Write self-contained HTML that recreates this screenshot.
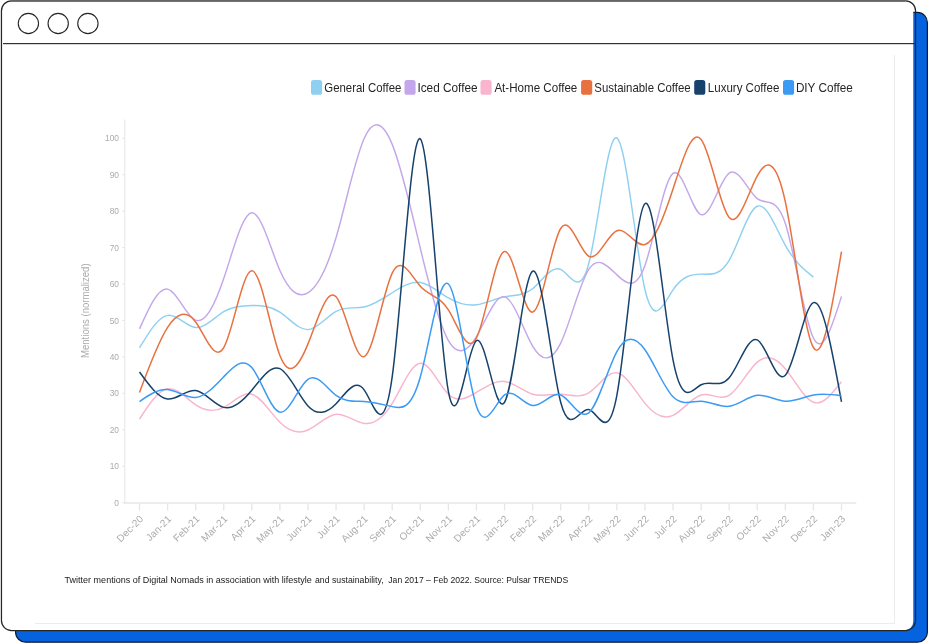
<!DOCTYPE html>
<html lang="en">
<head>
<meta charset="utf-8">
<title>Coffee mentions chart</title>
<style>
html,body{margin:0;padding:0;background:#ffffff;}
body{width:929px;height:644px;position:relative;overflow:hidden;font-family:"Liberation Sans",sans-serif;}
</style>
</head>
<body>
<svg width="929" height="644" viewBox="0 0 929 644" style="position:absolute;left:0;top:0;display:block" font-family="'Liberation Sans', sans-serif">
<rect x="0" y="0" width="929" height="644" fill="#ffffff"/>
<rect x="15.6" y="12.4" width="911.8" height="629.8" rx="10" ry="10" fill="#0663df" stroke="#0c1a30" stroke-width="1.2"/>
<rect x="1.45" y="0.8" width="911.8" height="629.7" rx="9" ry="9" fill="#ffffff"/>
<rect x="1.45" y="0.8" width="914.1" height="629.7" rx="10" ry="10" fill="none" stroke="#262626" stroke-width="1.25"/>
<rect x="11" y="0" width="894" height="1.7" fill="#666666"/>
<rect x="3" y="43" width="912" height="1.2" fill="#333333"/>
<circle cx="28.4" cy="23.5" r="10.15" fill="none" stroke="#262626" stroke-width="1.1"/>
<circle cx="58.2" cy="23.5" r="10.15" fill="none" stroke="#262626" stroke-width="1.1"/>
<circle cx="87.9" cy="23.5" r="10.15" fill="none" stroke="#262626" stroke-width="1.1"/>
<rect x="894" y="55" width="1" height="569" fill="#ececec"/>
<rect x="35" y="623" width="860" height="1" fill="#ececec"/>
<rect x="311.0" y="80.1" width="11.1" height="14.7" rx="2.6" ry="2.6" fill="#8fd0f1"/>
<text x="324.3" y="92.4" font-size="12.4" fill="#262626" textLength="77.0" lengthAdjust="spacingAndGlyphs">General Coffee</text>
<rect x="404.5" y="80.1" width="11.1" height="14.7" rx="2.6" ry="2.6" fill="#c3a7ea"/>
<text x="417.4" y="92.4" font-size="12.4" fill="#262626" textLength="60.2" lengthAdjust="spacingAndGlyphs">Iced Coffee</text>
<rect x="480.5" y="80.1" width="11.1" height="14.7" rx="2.6" ry="2.6" fill="#f8b5cd"/>
<text x="494.4" y="92.4" font-size="12.4" fill="#262626" textLength="82.9" lengthAdjust="spacingAndGlyphs">At-Home Coffee</text>
<rect x="581.1" y="80.1" width="11.1" height="14.7" rx="2.6" ry="2.6" fill="#e8713f"/>
<text x="594.3" y="92.4" font-size="12.4" fill="#262626" textLength="96.3" lengthAdjust="spacingAndGlyphs">Sustainable Coffee</text>
<rect x="694.2" y="80.1" width="11.1" height="14.7" rx="2.6" ry="2.6" fill="#17426b"/>
<text x="707.8" y="92.4" font-size="12.4" fill="#262626" textLength="71.6" lengthAdjust="spacingAndGlyphs">Luxury Coffee</text>
<rect x="783.0" y="80.1" width="11.1" height="14.7" rx="2.6" ry="2.6" fill="#3b9bf4"/>
<text x="795.9" y="92.4" font-size="12.4" fill="#262626" textLength="56.9" lengthAdjust="spacingAndGlyphs">DIY Coffee</text>
<rect x="124.3" y="119.5" width="1" height="384" fill="#e6e6e6"/>
<rect x="124.3" y="502.3" width="732" height="1.4" fill="#e6e6e6"/>
<rect x="122.5" y="502.2" width="2" height="1" fill="#e0e0e0"/>
<text x="119" y="505.7" font-size="8.4" fill="#ababab" text-anchor="end">0</text>
<rect x="122.5" y="465.8" width="2" height="1" fill="#e0e0e0"/>
<text x="119" y="469.3" font-size="8.4" fill="#ababab" text-anchor="end">10</text>
<rect x="122.5" y="429.3" width="2" height="1" fill="#e0e0e0"/>
<text x="119" y="432.8" font-size="8.4" fill="#ababab" text-anchor="end">20</text>
<rect x="122.5" y="392.9" width="2" height="1" fill="#e0e0e0"/>
<text x="119" y="396.4" font-size="8.4" fill="#ababab" text-anchor="end">30</text>
<rect x="122.5" y="356.4" width="2" height="1" fill="#e0e0e0"/>
<text x="119" y="359.9" font-size="8.4" fill="#ababab" text-anchor="end">40</text>
<rect x="122.5" y="320.0" width="2" height="1" fill="#e0e0e0"/>
<text x="119" y="323.5" font-size="8.4" fill="#ababab" text-anchor="end">50</text>
<rect x="122.5" y="283.6" width="2" height="1" fill="#e0e0e0"/>
<text x="119" y="287.1" font-size="8.4" fill="#ababab" text-anchor="end">60</text>
<rect x="122.5" y="247.1" width="2" height="1" fill="#e0e0e0"/>
<text x="119" y="250.6" font-size="8.4" fill="#ababab" text-anchor="end">70</text>
<rect x="122.5" y="210.7" width="2" height="1" fill="#e0e0e0"/>
<text x="119" y="214.2" font-size="8.4" fill="#ababab" text-anchor="end">80</text>
<rect x="122.5" y="174.2" width="2" height="1" fill="#e0e0e0"/>
<text x="119" y="177.7" font-size="8.4" fill="#ababab" text-anchor="end">90</text>
<rect x="122.5" y="137.8" width="2" height="1" fill="#e0e0e0"/>
<text x="119" y="141.3" font-size="8.4" fill="#ababab" text-anchor="end">100</text>
<rect x="138.85" y="503.5" width="1.3" height="7" fill="#e6e6e6"/>
<text transform="translate(144.0,519.5) rotate(-45)" font-size="10" letter-spacing="0.1" fill="#ababab" text-anchor="end">Dec-20</text>
<rect x="166.93" y="503.5" width="1.3" height="7" fill="#e6e6e6"/>
<text transform="translate(172.1,519.5) rotate(-45)" font-size="10" letter-spacing="0.1" fill="#ababab" text-anchor="end">Jan-21</text>
<rect x="195.01" y="503.5" width="1.3" height="7" fill="#e6e6e6"/>
<text transform="translate(200.2,519.5) rotate(-45)" font-size="10" letter-spacing="0.1" fill="#ababab" text-anchor="end">Feb-21</text>
<rect x="223.09" y="503.5" width="1.3" height="7" fill="#e6e6e6"/>
<text transform="translate(228.2,519.5) rotate(-45)" font-size="10" letter-spacing="0.1" fill="#ababab" text-anchor="end">Mar-21</text>
<rect x="251.17" y="503.5" width="1.3" height="7" fill="#e6e6e6"/>
<text transform="translate(256.3,519.5) rotate(-45)" font-size="10" letter-spacing="0.1" fill="#ababab" text-anchor="end">Apr-21</text>
<rect x="279.25" y="503.5" width="1.3" height="7" fill="#e6e6e6"/>
<text transform="translate(284.4,519.5) rotate(-45)" font-size="10" letter-spacing="0.1" fill="#ababab" text-anchor="end">May-21</text>
<rect x="307.33" y="503.5" width="1.3" height="7" fill="#e6e6e6"/>
<text transform="translate(312.5,519.5) rotate(-45)" font-size="10" letter-spacing="0.1" fill="#ababab" text-anchor="end">Jun-21</text>
<rect x="335.41" y="503.5" width="1.3" height="7" fill="#e6e6e6"/>
<text transform="translate(340.6,519.5) rotate(-45)" font-size="10" letter-spacing="0.1" fill="#ababab" text-anchor="end">Jul-21</text>
<rect x="363.49" y="503.5" width="1.3" height="7" fill="#e6e6e6"/>
<text transform="translate(368.6,519.5) rotate(-45)" font-size="10" letter-spacing="0.1" fill="#ababab" text-anchor="end">Aug-21</text>
<rect x="391.57" y="503.5" width="1.3" height="7" fill="#e6e6e6"/>
<text transform="translate(396.7,519.5) rotate(-45)" font-size="10" letter-spacing="0.1" fill="#ababab" text-anchor="end">Sep-21</text>
<rect x="419.65" y="503.5" width="1.3" height="7" fill="#e6e6e6"/>
<text transform="translate(424.8,519.5) rotate(-45)" font-size="10" letter-spacing="0.1" fill="#ababab" text-anchor="end">Oct-21</text>
<rect x="447.73" y="503.5" width="1.3" height="7" fill="#e6e6e6"/>
<text transform="translate(452.9,519.5) rotate(-45)" font-size="10" letter-spacing="0.1" fill="#ababab" text-anchor="end">Nov-21</text>
<rect x="475.81" y="503.5" width="1.3" height="7" fill="#e6e6e6"/>
<text transform="translate(481.0,519.5) rotate(-45)" font-size="10" letter-spacing="0.1" fill="#ababab" text-anchor="end">Dec-21</text>
<rect x="503.89" y="503.5" width="1.3" height="7" fill="#e6e6e6"/>
<text transform="translate(509.0,519.5) rotate(-45)" font-size="10" letter-spacing="0.1" fill="#ababab" text-anchor="end">Jan-22</text>
<rect x="531.97" y="503.5" width="1.3" height="7" fill="#e6e6e6"/>
<text transform="translate(537.1,519.5) rotate(-45)" font-size="10" letter-spacing="0.1" fill="#ababab" text-anchor="end">Feb-22</text>
<rect x="560.05" y="503.5" width="1.3" height="7" fill="#e6e6e6"/>
<text transform="translate(565.2,519.5) rotate(-45)" font-size="10" letter-spacing="0.1" fill="#ababab" text-anchor="end">Mar-22</text>
<rect x="588.13" y="503.5" width="1.3" height="7" fill="#e6e6e6"/>
<text transform="translate(593.3,519.5) rotate(-45)" font-size="10" letter-spacing="0.1" fill="#ababab" text-anchor="end">Apr-22</text>
<rect x="616.21" y="503.5" width="1.3" height="7" fill="#e6e6e6"/>
<text transform="translate(621.4,519.5) rotate(-45)" font-size="10" letter-spacing="0.1" fill="#ababab" text-anchor="end">May-22</text>
<rect x="644.29" y="503.5" width="1.3" height="7" fill="#e6e6e6"/>
<text transform="translate(649.4,519.5) rotate(-45)" font-size="10" letter-spacing="0.1" fill="#ababab" text-anchor="end">Jun-22</text>
<rect x="672.37" y="503.5" width="1.3" height="7" fill="#e6e6e6"/>
<text transform="translate(677.5,519.5) rotate(-45)" font-size="10" letter-spacing="0.1" fill="#ababab" text-anchor="end">Jul-22</text>
<rect x="700.45" y="503.5" width="1.3" height="7" fill="#e6e6e6"/>
<text transform="translate(705.6,519.5) rotate(-45)" font-size="10" letter-spacing="0.1" fill="#ababab" text-anchor="end">Aug-22</text>
<rect x="728.53" y="503.5" width="1.3" height="7" fill="#e6e6e6"/>
<text transform="translate(733.7,519.5) rotate(-45)" font-size="10" letter-spacing="0.1" fill="#ababab" text-anchor="end">Sep-22</text>
<rect x="756.61" y="503.5" width="1.3" height="7" fill="#e6e6e6"/>
<text transform="translate(761.8,519.5) rotate(-45)" font-size="10" letter-spacing="0.1" fill="#ababab" text-anchor="end">Oct-22</text>
<rect x="784.69" y="503.5" width="1.3" height="7" fill="#e6e6e6"/>
<text transform="translate(789.8,519.5) rotate(-45)" font-size="10" letter-spacing="0.1" fill="#ababab" text-anchor="end">Nov-22</text>
<rect x="812.77" y="503.5" width="1.3" height="7" fill="#e6e6e6"/>
<text transform="translate(817.9,519.5) rotate(-45)" font-size="10" letter-spacing="0.1" fill="#ababab" text-anchor="end">Dec-22</text>
<rect x="840.85" y="503.5" width="1.3" height="7" fill="#e6e6e6"/>
<text transform="translate(846.0,519.5) rotate(-45)" font-size="10" letter-spacing="0.1" fill="#ababab" text-anchor="end">Jan-23</text>
<text transform="translate(88.8,310.7) rotate(-90)" font-size="10" fill="#ababab" text-anchor="middle" textLength="94.6" lengthAdjust="spacingAndGlyphs">Mentions (normalized)</text>
<path d="M139.50,347.88C148.86,332.36,158.22,316.84,167.58,315.39C176.94,313.94,186.30,326.56,195.66,327.44C205.02,328.31,214.38,317.43,223.74,311.74C233.10,306.05,242.46,305.56,251.82,305.53C261.18,305.51,270.54,305.96,279.90,312.11C289.26,318.25,298.62,330.07,307.98,329.62C317.34,329.18,326.70,316.45,336.06,311.38C345.42,306.30,354.78,308.88,364.14,307.00C373.50,305.11,382.86,298.75,392.22,292.76C401.58,286.77,410.94,281.14,420.30,282.54C429.66,283.94,439.02,292.36,448.38,297.87C457.74,303.38,467.10,306.00,476.46,304.81C485.82,303.61,495.18,298.62,504.54,296.77C513.90,294.93,523.26,296.22,532.62,288.75C541.98,281.27,551.34,265.01,560.70,269.40C570.06,273.79,579.42,298.82,588.78,263.56C598.14,228.30,607.50,132.73,616.86,138.00C626.22,143.27,635.58,249.36,644.94,289.48C654.30,329.59,663.66,303.72,673.02,289.84C682.38,275.96,691.74,274.06,701.10,274.14C710.46,274.23,719.82,276.28,729.18,260.27C738.54,244.27,747.90,210.20,757.26,206.25C766.62,202.31,775.98,228.49,785.34,245.31C794.70,262.13,804.06,269.60,813.42,277.06" fill="none" stroke="#8fd0f1" stroke-width="1.45" stroke-linejoin="round"/>
<path d="M139.50,328.89C148.86,307.95,158.22,287.00,167.58,289.11C176.94,291.22,186.30,316.40,195.66,320.13C205.02,323.87,214.38,306.17,223.74,278.52C233.10,250.88,242.46,213.30,251.82,212.82C261.18,212.35,270.54,248.99,279.90,270.50C289.26,292.00,298.62,298.38,307.98,292.76C317.34,287.14,326.70,269.53,336.06,237.64C345.42,205.76,354.78,159.61,364.14,138.55C373.50,117.49,382.86,121.53,392.22,144.39C401.58,167.25,410.94,208.94,420.30,248.23C429.66,287.52,439.02,324.43,448.38,340.58C457.74,356.72,467.10,352.12,476.46,336.56C485.82,321.00,495.18,294.49,504.54,296.77C513.90,299.06,523.26,330.15,532.62,346.05C541.98,361.95,551.34,362.65,560.70,343.13C570.06,323.61,579.42,283.85,588.78,269.40C598.14,254.95,607.50,265.80,616.86,274.88C626.22,283.95,635.58,291.26,644.94,265.38C654.30,239.51,663.66,180.45,673.02,173.41C682.38,166.36,691.74,211.32,701.10,214.65C710.46,217.98,719.82,179.68,729.18,173.04C738.54,166.40,747.90,191.44,757.26,198.59C766.62,205.74,775.98,195.01,785.34,223.41C794.70,251.81,804.06,319.33,813.42,338.02C822.78,356.71,832.14,326.56,841.50,296.41" fill="none" stroke="#c3a7ea" stroke-width="1.45" stroke-linejoin="round"/>
<path d="M139.50,419.05C148.86,404.67,158.22,390.28,167.58,388.75C176.94,387.23,186.30,398.56,195.66,404.81C205.02,411.07,214.38,412.24,223.74,407.37C233.10,402.50,242.46,391.60,251.82,394.23C261.18,396.86,270.54,413.03,279.90,422.33C289.26,431.64,298.62,434.10,307.98,430.00C317.34,425.90,326.70,415.25,336.06,414.31C345.42,413.36,354.78,422.13,364.14,423.43C373.50,424.73,382.86,418.56,392.22,403.36C401.58,388.15,410.94,363.91,420.30,363.21C429.66,362.50,439.02,385.32,448.38,394.23C457.74,403.14,467.10,398.12,476.46,392.40C485.82,386.69,495.18,380.27,504.54,381.46C513.90,382.64,523.26,391.43,532.62,394.23C541.98,397.03,551.34,393.85,560.70,394.23C570.06,394.61,579.42,398.56,588.78,392.77C598.14,386.98,607.50,371.46,616.86,372.69C626.22,373.93,635.58,391.91,644.94,403.36C654.30,414.80,663.66,419.72,673.02,415.40C682.38,411.08,691.74,397.51,701.10,394.96C710.46,392.41,719.82,400.88,729.18,395.32C738.54,389.77,747.90,370.18,757.26,362.11C766.62,354.04,775.98,357.50,785.34,368.68C794.70,379.86,804.06,398.78,813.42,402.26C822.78,405.74,832.14,393.78,841.50,381.82" fill="none" stroke="#f8b5cd" stroke-width="1.45" stroke-linejoin="round"/>
<path d="M139.50,392.40C148.86,367.14,158.22,341.88,167.58,327.44C176.94,312.99,186.30,309.35,195.66,321.96C205.02,334.57,214.38,363.43,223.74,347.51C233.10,331.59,242.46,270.88,251.82,270.86C261.18,270.84,270.54,331.49,279.90,355.54C289.26,379.59,298.62,367.03,307.98,343.86C317.34,320.69,326.70,286.89,336.06,296.77C345.42,306.66,354.78,360.21,364.14,356.63C373.50,353.06,382.86,292.35,392.22,273.05C401.58,253.75,410.94,275.86,420.30,286.19C429.66,296.52,439.02,295.06,448.38,309.92C457.74,324.77,467.10,355.94,476.46,338.02C485.82,320.10,495.18,253.10,504.54,251.51C513.90,249.93,523.26,313.75,532.62,312.11C541.98,310.46,551.34,243.36,560.70,228.52C570.06,213.68,579.42,251.10,588.78,256.26C598.14,261.42,607.50,234.33,616.86,230.71C626.22,227.09,635.58,246.93,644.94,244.58C654.30,242.23,663.66,217.70,673.02,189.10C682.38,160.50,691.74,127.84,701.10,139.46C710.46,151.08,719.82,207.00,729.18,217.57C738.54,228.14,747.90,193.37,757.26,175.96C766.62,158.55,775.98,158.51,785.34,201.88C794.70,245.24,804.06,332.00,813.42,347.51C822.78,363.02,832.14,307.27,841.50,251.51" fill="none" stroke="#e8713f" stroke-width="1.5" stroke-linejoin="round"/>
<path d="M139.50,371.97C148.86,384.91,158.22,397.86,167.58,398.98C176.94,400.09,186.30,389.37,195.66,390.58C205.02,391.79,214.38,404.93,223.74,407.37C233.10,409.81,242.46,401.55,251.82,390.22C261.18,378.88,270.54,364.45,279.90,368.68C289.26,372.91,298.62,395.78,307.98,405.91C317.34,416.04,326.70,413.43,336.06,403.72C345.42,394.01,354.78,377.19,364.14,389.85C373.50,402.51,382.86,444.65,392.22,376.71C401.58,308.77,410.94,130.75,420.30,138.91C429.66,147.07,439.02,341.41,448.38,391.31C457.74,441.21,467.10,346.69,476.46,340.58C485.82,334.46,495.18,416.76,504.54,402.26C513.90,387.76,523.26,276.46,532.62,271.23C541.98,265.99,551.34,366.83,560.70,402.26C570.06,437.69,579.42,407.70,588.78,409.56C598.14,411.42,607.50,445.11,616.86,395.32C626.22,345.54,635.58,212.26,644.94,203.70C654.30,195.14,663.66,311.29,673.02,359.92C682.38,408.55,691.74,389.64,701.10,384.74C710.46,379.84,719.82,388.93,729.18,377.81C738.54,366.68,747.90,335.34,757.26,339.85C766.62,344.35,775.98,384.72,785.34,375.25C794.70,365.78,804.06,306.48,813.42,302.62C822.78,298.75,832.14,350.32,841.50,401.89" fill="none" stroke="#17426b" stroke-width="1.5" stroke-linejoin="round"/>
<path d="M139.50,401.53C148.86,395.09,158.22,388.65,167.58,389.49C176.94,390.32,186.30,398.42,195.66,397.51C205.02,396.61,214.38,386.69,223.74,376.71C233.10,366.73,242.46,356.69,251.82,367.59C261.18,378.48,270.54,410.32,279.90,412.12C289.26,413.91,298.62,385.67,307.98,379.26C317.34,372.86,326.70,388.29,336.06,395.32C345.42,402.36,354.78,400.98,364.14,401.53C373.50,402.08,382.86,404.54,392.22,406.64C401.58,408.74,410.94,410.46,420.30,377.07C429.66,343.69,439.02,275.19,448.38,284.00C457.74,292.81,467.10,378.92,476.46,406.27C485.82,433.63,495.18,402.22,504.54,394.96C513.90,387.70,523.26,404.59,532.62,405.55C541.98,406.50,551.34,391.52,560.70,394.96C570.06,398.40,579.42,420.25,588.78,412.85C598.14,405.44,607.50,368.77,616.86,351.52C626.22,334.28,635.58,336.44,644.94,349.70C654.30,362.96,663.66,387.31,673.02,396.78C682.38,406.26,691.74,400.85,701.10,401.17C710.46,401.48,719.82,407.53,729.18,406.27C738.54,405.02,747.90,396.45,757.26,395.32C766.62,394.20,775.98,400.51,785.34,401.17C794.70,401.82,804.06,396.82,813.42,394.96C822.78,393.10,832.14,394.40,841.50,395.69" fill="none" stroke="#3b9bf4" stroke-width="1.5" stroke-linejoin="round"/>
<text y="583" font-size="9.1" fill="#1a1a1a" xml:space="preserve"><tspan x="64.6" textLength="247.3" lengthAdjust="spacingAndGlyphs">Twitter mentions of Digital Nomads in association with lifestyle</tspan><tspan> </tspan><tspan x="315" textLength="68.6" lengthAdjust="spacingAndGlyphs">and sustainability,</tspan><tspan> </tspan><tspan x="388.3" textLength="180" lengthAdjust="spacingAndGlyphs">Jan 2017 – Feb 2022. Source: Pulsar TRENDS</tspan></text>
</svg>
</body>
</html>
